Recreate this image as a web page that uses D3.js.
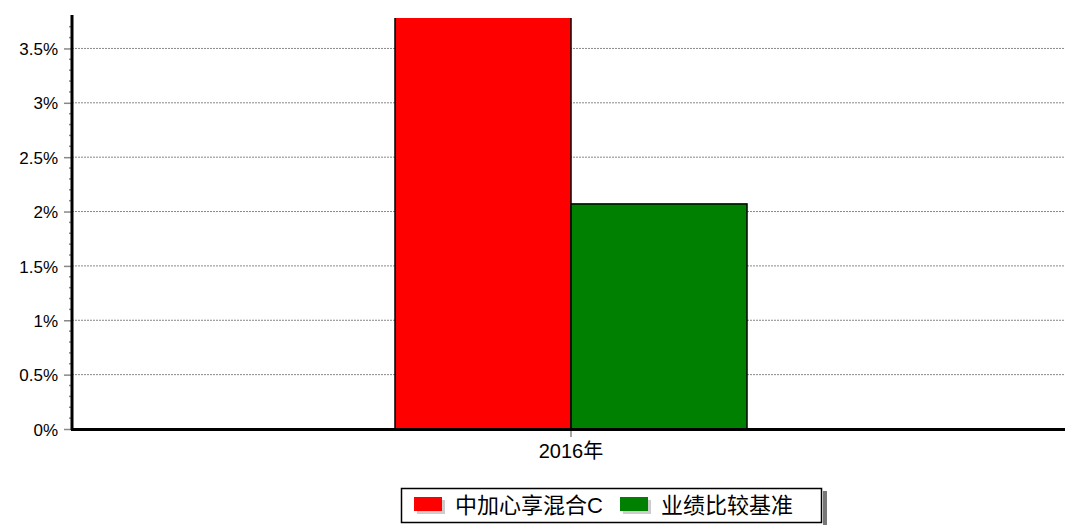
<!DOCTYPE html>
<html>
<head>
<meta charset="utf-8">
<script src="https://cdn.jsdelivr.net/npm/d3@7"></script>
<style>
  body { margin: 0; background: #fff; }
  svg { display: block; }
  text { font-family: "Liberation Sans", Arial, "Noto Sans CJK SC", sans-serif; }
</style>
</head>
<body>
<div id="graf"></div>
<script>
// datos
categorias = ['2016年']
series = ['中加心享混合C', '业绩比较基准']
valores = [[3.95], [2.07]]
colores = ['#ff0000', '#008000']
ticksY = [0, 0.5, 1, 1.5, 2, 2.5, 3, 3.5]

ancho_total = 1065
alto_total = 525
margins = { top: 18, left: 72, right: -5, bottom: 96 }
ancho = ancho_total - margins.left - margins.right
alto = alto_total - margins.top - margins.bottom

svg = d3.select('#graf').append('svg')
        .attr('width', ancho_total)
        .attr('height', alto_total)

g = svg.append('g')
        .attr('transform', `translate(${margins.left}, ${margins.top})`)

x = d3.scaleBand().domain(categorias).range([0, ancho])
x1 = d3.scaleBand().domain(series).range([x.bandwidth() / 2 - 176, x.bandwidth() / 2 + 176])
y = d3.scaleLinear().domain([0, 3.78]).range([alto, 0])

// grid
g.append('g')
        .selectAll('line')
        .data(ticksY.filter(d => d > 0))
        .join('line')
        .attr('x1', 0).attr('x2', ancho_total)
        .attr('y1', d => y(d)).attr('y2', d => y(d))
        .attr('stroke', '#888')
        .attr('stroke-width', 1)
        .attr('stroke-dasharray', '2,1')

// barras
svg.append('clipPath').attr('id', 'clip')
        .append('rect').attr('x', 0).attr('y', 0).attr('width', ancho_total).attr('height', alto)

g.append('g').attr('clip-path', 'url(#clip)')
        .selectAll('g')
        .data(categorias)
        .join('g')
        .attr('transform', d => `translate(${x(d)},0)`)
        .selectAll('rect')
        .data((d, i) => series.map((s, j) => ({ s, v: valores[j][i], c: colores[j] })))
        .join('rect')
        .attr('x', d => x1(d.s))
        .attr('width', x1.bandwidth())
        .attr('y', d => y(d.v))
        .attr('height', d => alto - y(d.v))
        .attr('fill', d => d.c)
        .attr('stroke', '#000')
        .attr('stroke-width', 1.5)

// eje y
yAxis = g.append('g')
        .call(d3.axisLeft(y).tickValues(ticksY).tickFormat(d => d + '%').tickSize(8).tickPadding(6))
yAxis.select('.domain').remove()
yAxis.selectAll('line').attr('stroke', '#888').attr('stroke-width', 1.5)
yAxis.selectAll('text').style('font-size', '17px').attr('fill', '#000').attr('dy', '0.36em')

minor = d3.range(0, 38).map(d => d / 10).filter(d => Math.round(d * 10) % 5 != 0)
g.append('g').selectAll('line')
        .data(minor)
        .join('line')
        .attr('x1', -3).attr('x2', 0)
        .attr('y1', d => y(d)).attr('y2', d => y(d))
        .attr('stroke', '#888').attr('stroke-width', 1.5)

g.append('line')
        .attr('x1', 0).attr('x2', 0)
        .attr('y1', -3).attr('y2', alto + 1)
        .attr('stroke', '#000').attr('stroke-width', 3)

// eje x
xAxis = g.append('g')
        .attr('transform', `translate(0, ${alto})`)
        .call(d3.axisBottom(x).tickSize(8).tickPadding(7))
xAxis.select('.domain').remove()
xAxis.selectAll('line').attr('stroke', '#888').attr('stroke-width', 1.5)
xAxis.selectAll('text').style('font-size', '20px').attr('fill', '#000')

g.append('line')
        .attr('x1', -1).attr('x2', ancho_total)
        .attr('y1', alto + 0.5).attr('y2', alto + 0.5)
        .attr('stroke', '#000').attr('stroke-width', 3)

// leyenda
ley = svg.append('g').attr('transform', 'translate(401, 488)')
ley.append('rect').attr('x', 422).attr('y', 3).attr('width', 4).attr('height', 34).attr('fill', '#777')
ley.append('rect').attr('x', 0.5).attr('y', 0.5).attr('width', 420).attr('height', 34)
        .attr('fill', '#fff').attr('stroke', '#000').attr('stroke-width', 1.5)

posLey = [13, 219]
series.forEach((s, i) => {
        item = ley.append('g').attr('transform', `translate(${posLey[i]}, 0)`)
        item.append('rect').attr('x', 3).attr('y', 12).attr('width', 28).attr('height', 14).attr('fill', '#ccc')
        item.append('rect').attr('x', 0).attr('y', 9).attr('width', 28).attr('height', 14).attr('fill', colores[i])
        item.append('text').attr('x', 41).attr('y', 25)
                .style('font-size', '22px').attr('fill', '#000').text(s)
})
</script>
</body>
</html>
